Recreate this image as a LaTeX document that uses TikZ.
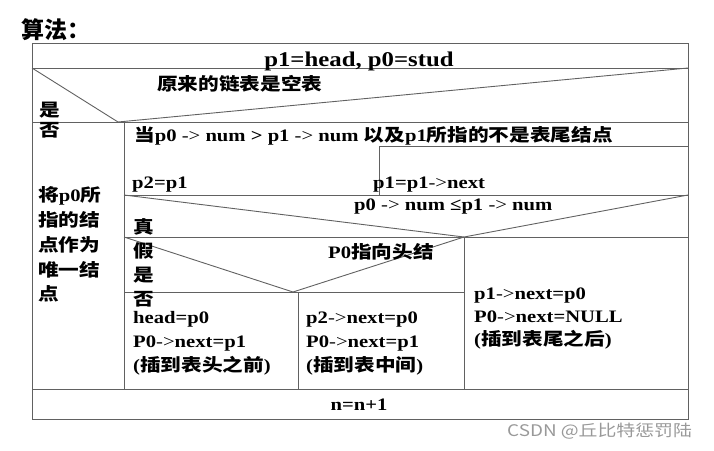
\documentclass[tikz,border=0pt]{standalone}
\usepackage{fontspec}
\setmainfont{Liberation Serif}[FakeStretch=1.18]
\newfontfamily\cjk{Noto Sans CJK SC}[FakeStretch=1.18]
\newfontfamily\cjkn{Noto Sans CJK SC}
\newcommand\zh[1]{{\cjk #1}}
\newcommand\arw{{\mdseries ->}}
\begin{document}
\begin{tikzpicture}[x=1pt,y=-1pt,
  grid/.style={draw=black!62, line width=0.9pt},
  txt/.style={inner sep=0pt, anchor=base west, font=\fontsize{17.5}{20}\selectfont\bfseries},
  ctxt/.style={txt, anchor=base}]
\useasboundingbox (0,0) rectangle (714,450);
% grid points
\coordinate (TL) at (32,43);
\coordinate (BR) at (688,419);
\coordinate (a1) at (32,68);   \coordinate (b1) at (688,68);
\coordinate (v1) at (118,122);
\coordinate (a2) at (32,122);  \coordinate (b2) at (688,122);
\coordinate (c2) at (124,122); \coordinate (c7) at (124,389);
\coordinate (w3) at (379,146); \coordinate (b3) at (688,146);
\coordinate (w4) at (379,195);
\coordinate (c4) at (124,195); \coordinate (b4) at (688,195);
\coordinate (v2) at (464,237);
\coordinate (c5) at (124,237); \coordinate (b5) at (688,237);
\coordinate (v3) at (293,292);
\coordinate (c6) at (124,292); \coordinate (d6) at (464,292);
\coordinate (m6) at (298,292); \coordinate (m7) at (298,389);
\coordinate (d7) at (464,389);
\coordinate (a7) at (32,389);  \coordinate (b7) at (688,389);
% lines
\draw[grid] (TL) rectangle (BR);
\draw[grid] (a1) -- (b1);
\draw[grid] (a1) -- (v1) -- (b1);
\draw[grid] (a2) -- (b2);
\draw[grid] (c2) -- (c7);
\draw[grid] (w3) -- (b3);
\draw[grid] (w3) -- (w4);
\draw[grid] (c4) -- (b4);
\draw[grid] (c4) -- (v2) -- (b4);
\draw[grid] (c5) -- (b5);
\draw[grid] (c5) -- (v3) -- (v2);
\draw[grid] (c6) -- (d6);
\draw[grid] (m6) -- (m7);
\draw[grid] (v2) -- (d7);
\draw[grid] (a7) -- (b7);
% texts
\node[inner sep=0pt, anchor=base west, font=\fontsize{23}{26}\selectfont\cjkn\bfseries] (algo) at (21,38) {算法：};
\node[ctxt, font=\fontsize{21}{24}\selectfont\bfseries] (init) at (359,66) {p1=head, p0=stud};
\node[txt] (q1) at (157,90) {\zh{原来的链表是空表}};
\node[txt] (yes1) at (39,116) {\zh{是}};
\node[txt] (no1) at (39,136) {\zh{否}};
\node[txt] (l1) at (38,201) {\zh{将}p0\zh{所}};
\node[txt] (l2) at (38,226) {\zh{指的结}};
\node[txt] (l3) at (38,251) {\zh{点作为}};
\node[txt] (l4) at (38,276) {\zh{唯一结}};
\node[txt] (l5) at (38,300) {\zh{点}};
\node[txt] (loop) at (134,141) {\zh{当}p0 \arw{} num > p1 \arw{} num \zh{以及}p1\zh{所指的不是表尾结点}};
\node[txt] (s1) at (132,188) {p2=p1};
\node[txt] (s2) at (373,188) {p1=p1\arw{}next};
\node[txt] (q2) at (354,210) {p0 \arw{} num ≤p1 \arw{} num};
\node[txt] (t1) at (133,233) {\zh{真}};
\node[txt] (f1) at (133,257) {\zh{假}};
\node[txt] (y2) at (133,281) {\zh{是}};
\node[txt] (n2) at (133,305) {\zh{否}};
\node[txt] (q3) at (328,258) {P0\zh{指向头结}};
\node[txt] (h1) at (133,323) {head=p0};
\node[txt] (h2) at (133,347) {P0\arw{}next=p1};
\node[txt] (h3) at (133,371) {(\zh{插到表头之前})};
\node[txt] (m1) at (306,323) {p2\arw{}next=p0};
\node[txt] (m2) at (306,347) {P0\arw{}next=p1};
\node[txt] (m3) at (306,371) {(\zh{插到表中间})};
\node[txt] (e1) at (474,299) {p1\arw{}next=p0};
\node[txt] (e2) at (474,322) {P0\arw{}next=NULL};
\node[txt] (e3) at (474,345) {(\zh{插到表尾之后})};
\node[ctxt] (inc) at (359,410) {n=n+1};
\node[inner sep=0pt, anchor=base west, text=black!40, font=\fontsize{16}{18}\selectfont\cjk] (wm) at (507,436) {CSDN @丘比特惩罚陆};
\end{tikzpicture}
\end{document}
